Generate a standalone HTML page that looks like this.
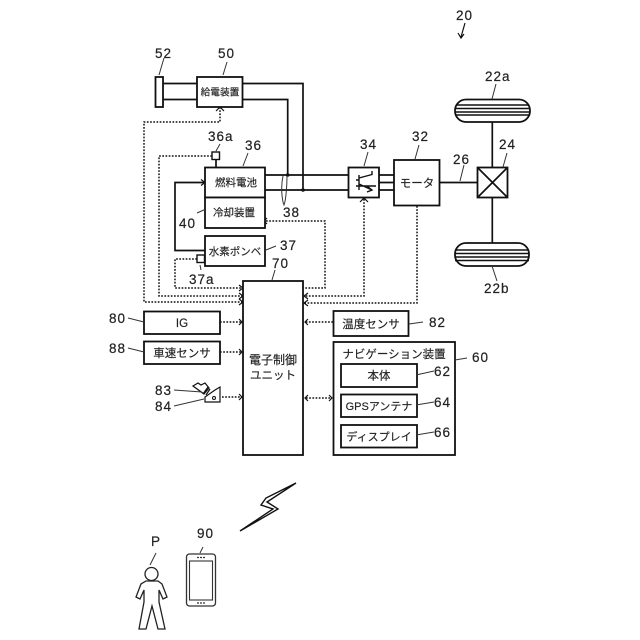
<!DOCTYPE html>
<html><head><meta charset="utf-8"><style>
html,body{margin:0;padding:0;background:#fff}
svg{display:block}
text{font-family:"Liberation Sans","Noto Sans CJK JP",sans-serif;fill:#222}
.n{font-size:13.5px;letter-spacing:1px;stroke:#222;stroke-width:.2}
.j{font-size:10.5px;text-anchor:middle;stroke:#222;stroke-width:.15}
.b{fill:#fff;stroke:#111;stroke-width:1.8}
.l{fill:none;stroke:#111;stroke-width:1.7}
.t{fill:none;stroke:#333;stroke-width:1}
.d{fill:none;stroke:#111;stroke-width:1.5;stroke-dasharray:1.7 1.5}
.a{fill:none;stroke:#111;stroke-width:1.2}
</style></head><body>
<svg width="640" height="640" viewBox="0 0 640 640" xmlns="http://www.w3.org/2000/svg">
<rect width="640" height="640" fill="#fff"/>
<!-- power lines -->
<path class="l" d="M163 83.5H197M163 99.5H197M242 83.5H303V190M242 99.5H287.7V175"/>
<path class="l" d="M265 175H349M265 190H349M379 175H394M379 182.5H394M379 190H394M439 182.5H478M492.3 121V243"/>
<circle cx="287.7" cy="175" r="1.8" fill="#111"/><circle cx="303" cy="190" r="1.8" fill="#111"/>
<path class="l" d="M205 182.5H175V250.5H205"/>
<path class="a" d="M201 179.5L205 182.5L201 185.5"/>
<!-- dotted -->
<path class="d" d="M220 107V122H144V302H243"/>
<path class="d" d="M212 156H159V296H243"/>
<path class="d" d="M197 259H175V288H243"/>
<path class="d" d="M266 221H325V288H304"/>
<path class="d" d="M364 199V296H304"/>
<path class="d" d="M417 206V303H304"/>
<path class="d" d="M220 322H242M220 352H242M222 397H242M333 322H305M306 398H332"/>
<g class="a">
<path d="M216 111L220 107L224 111M267 218L264 221L267 224M360 202L364 198L368 202"/>
<path d="M239 285L243 288L239 291M239 293L243 296L239 299M239 299L243 302L239 305"/>
<path d="M308 300L304 303L308 306M308 293L304 296L308 299"/>
<path d="M239 319L242 322L239 325M239 349L242 352L239 355M239 394L242 397L239 400M308 319L305 322L308 325M308 395L305 398L308 401M329 395L332 398L329 401"/>
</g>
<!-- tires -->
<g>
<rect x="455" y="99.5" width="75" height="22.5" rx="11" class="b"/>
<path d="M456 105H529M455 108.5H530M455 112H530M455 115H530" stroke="#111" stroke-width="1.4" fill="none"/>
<rect x="455" y="243" width="74" height="23" rx="11" class="b"/>
<path d="M456 250H528M455 253.5H529M455 257H529M455 260.5H529" stroke="#111" stroke-width="1.4" fill="none"/>
</g>
<!-- boxes -->
<rect x="155.5" y="77" width="7.5" height="30" class="b"/>
<rect x="197" y="77" width="45.5" height="30" class="b"/>
<text class="j" x="220" y="95.5" style="font-size:9.7px">給電装置</text>
<rect x="205" y="167.5" width="60" height="30" class="b"/>
<text class="j" x="236" y="186">燃料電池</text>
<rect x="205" y="197.5" width="60" height="30.5" class="b"/>
<text class="j" x="234" y="216">冷却装置</text>
<rect x="205" y="236" width="60" height="30" class="b"/>
<text class="j" x="235" y="255">水素ポンベ</text>
<rect x="212" y="152" width="7.5" height="7.5" class="b" style="stroke-width:1.4"/>
<path class="l" d="M216 160V167"/>
<rect x="197" y="255" width="7.5" height="7.5" class="b" style="stroke-width:1.4"/>
<rect x="348.5" y="167.5" width="30.5" height="30" class="b"/>
<path class="l" d="M356 180H359M359 175V190M359 178L372 174.5V171M359 184L372 190M356 186H376M367 186L372 190L367 192" style="stroke-width:1.4"/>
<rect x="394" y="160" width="45.5" height="45.5" class="b"/>
<text class="j" x="417" y="187" style="font-size:11.5px">モータ</text>
<rect x="477.5" y="167.5" width="30" height="30" class="b"/>
<path class="l" d="M477.5 167.5L507.5 197.5M507.5 167.5L477.5 197.5"/>
<rect x="243" y="281" width="60" height="174" class="b"/>
<text class="j" x="273" y="364" style="font-size:12px">電子制御</text>
<text class="j" x="273" y="379" style="font-size:11.5px">ユニット</text>
<rect x="144" y="311.5" width="76" height="22.5" class="b"/>
<text class="j" x="182" y="327" style="font-size:11.5px">IG</text>
<rect x="144" y="341.5" width="76" height="22.5" class="b"/>
<text class="j" x="182" y="357" style="font-size:11.5px">車速センサ</text>
<rect x="333.5" y="311" width="75" height="25" class="b"/>
<text class="j" x="371" y="328" style="font-size:11.5px">温度センサ</text>
<rect x="333.5" y="342" width="121.5" height="113" class="b"/>
<text class="j" x="394" y="358" style="font-size:11.5px">ナビゲーション装置</text>
<rect x="341" y="364" width="76" height="23" class="b"/>
<text class="j" x="379" y="379.5" style="font-size:11.5px">本体</text>
<rect x="341" y="394.5" width="76" height="22.5" class="b"/>
<text class="j" x="379" y="410" style="font-size:11px">GPSアンテナ</text>
<rect x="341" y="425" width="76" height="22.5" class="b"/>
<text class="j" x="379" y="440.5" style="font-size:11px">ディスプレイ</text>
<!-- pedal icons -->
<path class="a" d="M193 386L198 383L201 385L205 383L209 388L204 394Z M203 394L208 387M206 395L210 389"/>
<path class="l" d="M205 402V397L215 390L220 387V402Z" style="stroke-width:1.2"/>
<circle cx="214" cy="398" r="1.5" fill="none" stroke="#111"/>
<!-- leader lines -->
<g class="t">
<path d="M159 75L164 58M223 75L227 62M216 151L220 144M243 166L248 153M364 166L368 152M415 159L419 145M460 181L464 165M503 167L507 153" />
<path d="M283 176C280 190 283 203 284 205C286 200 287 185 287 176M197 213L206 209M266 250L276 246M200 265L201 270M272 280L275 270"/>
<path d="M128 318L144 322M128 348L144 352M174 390L202 392M174 406L204 399M409 324L423 322M416 375L434 371M416 405L434 402M416 435L434 432M455 360L467 358"/>
<path d="M492 99L496 84M492 266C494 272 495 275 497 281"/>
<path d="M150 565L156 553M200 553L203 547"/>
</g>
<path class="a" d="M465 23L461 37M458 33L461 38L464 34"/>
<!-- numbers -->
<text class="n" x="155" y="58">52</text>
<text class="n" x="218" y="58">50</text>
<text class="n" x="208" y="141">36a</text>
<text class="n" x="245" y="150">36</text>
<text class="n" x="360" y="149">34</text>
<text class="n" x="412" y="141">32</text>
<text class="n" x="453" y="164">26</text>
<text class="n" x="499" y="149">24</text>
<text class="n" x="283" y="217">38</text>
<text class="n" x="179" y="228">40</text>
<text class="n" x="280" y="250">37</text>
<text class="n" x="272" y="268">70</text>
<text class="n" x="189" y="284">37a</text>
<text class="n" x="485" y="81">22a</text>
<text class="n" x="484" y="293">22b</text>
<text class="n" x="456" y="20">20</text>
<text class="n" x="109" y="323">80</text>
<text class="n" x="109" y="353">88</text>
<text class="n" x="155" y="395">83</text>
<text class="n" x="155" y="411">84</text>
<text class="n" x="429" y="327">82</text>
<text class="n" x="472" y="362">60</text>
<text class="n" x="434" y="376">62</text>
<text class="n" x="434" y="407">64</text>
<text class="n" x="434" y="437">66</text>
<text class="n" x="151" y="546">P</text>
<text class="n" x="197" y="538">90</text>
<!-- lightning -->
<path d="M296 483L266 498L261 505L273 509L240 531L278 509L267 502Z" fill="#fff" stroke="#111" stroke-width="1.4" stroke-linejoin="miter"/>
<!-- phone -->
<rect x="186.5" y="554" width="29" height="52" rx="3" fill="#fff" stroke="#333" stroke-width="1.3"/>
<rect x="189.5" y="561" width="23" height="39" fill="#fff" stroke="#333" stroke-width="1.1"/>
<path d="M197 557.5H205M197 603H205" stroke="#333" stroke-width="1.2" stroke-dasharray="2 1"/>
<!-- person -->
<path d="M146 581H158L162 584L167 597L163 599L159 590V602L165 629H158L152 606L146 629H139L144 602V590L140 599L136 597L141 584Z" fill="#fff" stroke="#222" stroke-width="1.3" stroke-linejoin="miter"/>
<circle cx="151.5" cy="574" r="6.5" fill="#fff" stroke="#222" stroke-width="1.3"/>
</svg>
</body></html>
